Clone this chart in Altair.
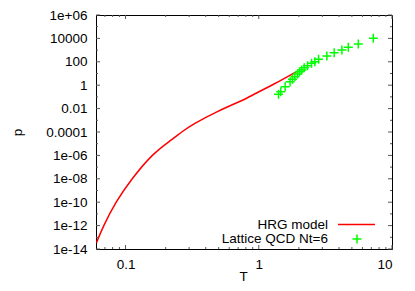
import altair as alt
import pandas as pd

# HRG model curve (T, p)
hrg_T = [0.0605, 0.0687, 0.0851, 0.1123, 0.159, 0.218, 0.264, 0.327, 0.489, 0.733, 0.871, 1.30, 1.95]
hrg_p = [3.47e-14, 1e-12, 1e-10, 1e-8, 1e-6, 1.91e-5, 1e-4, 5.0e-4, 5.5e-3, 0.0447, 0.12, 1.26, 16.2]

# Lattice QCD Nt=6 points
lat_T = [1.406, 1.462, 1.578, 1.718, 1.791, 1.866, 1.954, 2.023, 2.104, 2.193,
         2.323, 2.489, 2.636, 2.812, 3.243, 3.681, 4.207, 4.699, 5.585, 7.244]
lat_p = [0.166, 0.282, 0.741, 2.0, 3.16, 5.37, 9.12, 14.1, 20.0, 31.6,
         46.8, 74.1, 102, 162, 316, 603, 1023, 1738, 3311, 10233]

x_major = [0.1, 1, 10]
x_minor = [0.07, 0.08, 0.09, 0.2, 0.3, 0.4, 0.5, 0.6, 0.7, 0.8, 0.9,
           2, 3, 4, 5, 6, 7, 8, 9]
y_major = [1e-14, 1e-12, 1e-10, 1e-08, 1e-06, 1e-4, 1e-2, 1, 100, 1e4, 1e6]
y_major_labels = ["1e-14", "1e-12", "1e-10", "1e-08", "1e-06", "0.0001", "0.01",
                  "1", "100", "10000", "1e+06"]
y_minor = [1e-13, 1e-11, 1e-9, 1e-7, 1e-5, 1e-3, 0.1, 10, 1000, 1e5]
legend_labels = ["HRG model", "Lattice QCD Nt=6"]

W, H = 296, 234
FONT = "Liberation Sans"
FS = 13.5
RED = "#ff0000"
GREEN = "#00ff00"
TICK = "#555555"
PLUS = "M-1,0H1M0,-1V1"

xs = alt.Scale(type="log", domain=[0.06, 10], nice=False)
ys = alt.Scale(type="log", domain=[1e-14, 1e6], nice=False)

label_expr = ""
for v, lab in zip(y_major, y_major_labels):
    label_expr += f"datum.value < {v * 3:g} ? '{lab}' : "
label_expr += "''"

X_AXIS = alt.Axis(values=x_major, format="~g", title="T", labelPadding=8,
                  titleX=147, titleY=31, titleBaseline="alphabetic", titleAlign="center")
Y_AXIS = alt.Axis(values=y_major, labelExpr=label_expr, title="p", labelPadding=9,
                  titleX=-75, titleY=117, titleAngle=270, titleBaseline="alphabetic",
                  titleAlign="center")

hrg = pd.DataFrame({"T": hrg_T, "p": hrg_p})
lat = pd.DataFrame({"T": lat_T, "p": lat_p})

line = alt.Chart(hrg).mark_line(color=RED, strokeWidth=1.5, interpolate="natural", clip=True).encode(
    x=alt.X("T:Q", scale=xs, axis=X_AXIS),
    y=alt.Y("p:Q", scale=ys, axis=Y_AXIS),
)

pts = alt.Chart(lat).mark_point(shape=PLUS, filled=False, size=81, color=GREEN,
                                strokeWidth=1.5, opacity=1, clip=True).encode(
    x=alt.X("T:Q", scale=xs, axis=X_AXIS),
    y=alt.Y("p:Q", scale=ys, axis=Y_AXIS),
)


def xticks(vals, length):
    d = pd.DataFrame({"T": vals})
    base = alt.Chart(d).mark_rule(color=TICK, strokeWidth=1)
    bottom = base.encode(x=alt.X("T:Q", scale=xs, axis=X_AXIS), y=alt.value(H), y2=alt.value(H - length))
    top = base.encode(x=alt.X("T:Q", scale=xs, axis=X_AXIS), y=alt.value(0), y2=alt.value(length))
    return [bottom, top]


def yticks(vals, length):
    d = pd.DataFrame({"p": vals})
    base = alt.Chart(d).mark_rule(color=TICK, strokeWidth=1)
    left = base.encode(y=alt.Y("p:Q", scale=ys, axis=Y_AXIS), x=alt.value(0), x2=alt.value(length))
    right = base.encode(y=alt.Y("p:Q", scale=ys, axis=Y_AXIS), x=alt.value(W - length), x2=alt.value(W))
    return [left, right]


tick_layers = xticks(x_major, 4) + xticks(x_minor, 2) + yticks(y_major, 4) + yticks(y_minor, 2)

leg1 = pd.DataFrame({"label": [legend_labels[0]]})
leg2 = pd.DataFrame({"label": [legend_labels[1]]})
leg_text1 = alt.Chart(leg1).mark_text(align="right", baseline="middle", font=FONT, fontSize=FS,
                                      color="black").encode(
    x=alt.value(232), y=alt.value(209.5), text="label:N")
leg_text2 = alt.Chart(leg2).mark_text(align="right", baseline="middle", font=FONT, fontSize=FS,
                                      color="black").encode(
    x=alt.value(232), y=alt.value(224), text="label:N")
leg_line = alt.Chart(leg1).mark_rule(color=RED, strokeWidth=1.5).encode(
    x=alt.value(242), x2=alt.value(279), y=alt.value(209.5))
leg_plus = alt.Chart(leg2).mark_point(shape=PLUS, filled=False, size=81, color=GREEN,
                                      strokeWidth=1.5, opacity=1).encode(
    x=alt.value(261), y=alt.value(224))

chart = alt.layer(line, pts, *tick_layers, leg_text1, leg_text2, leg_line, leg_plus).properties(
    width=W, height=H,
    autosize=alt.AutoSizeParams(type="none"),
    padding={"left": 88, "top": 7, "right": 15, "bottom": 34},
).configure_view(
    stroke="black", strokeWidth=1
).configure_axis(
    domain=False, ticks=False, tickSize=0, grid=False,
    labelFont=FONT, labelFontSize=FS, labelColor="black",
    titleFont=FONT, titleFontSize=FS, titleColor="black", titleFontWeight="normal",
)

chart.save("out.html", embed_options={"renderer": "svg", "actions": False})
